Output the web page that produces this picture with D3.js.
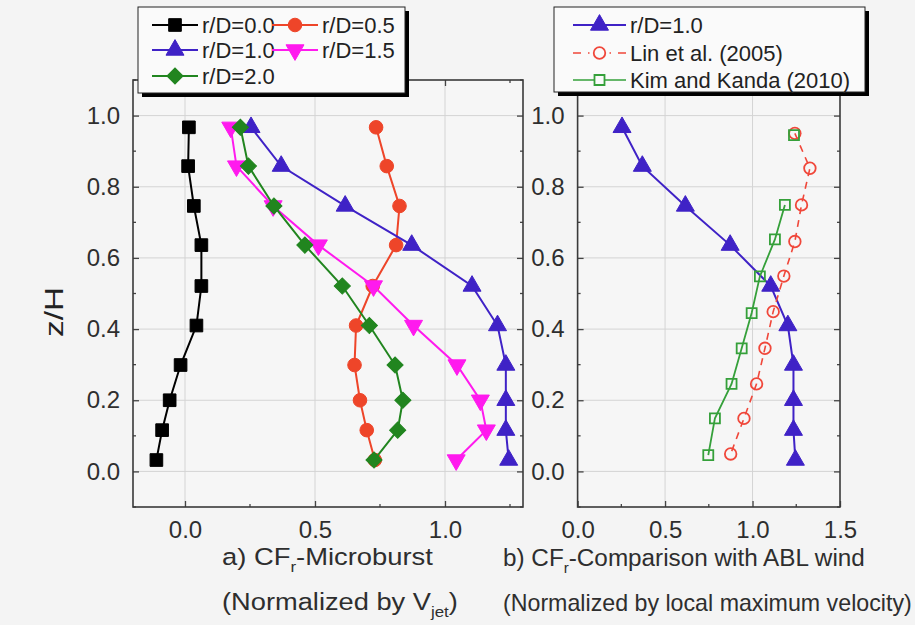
<!DOCTYPE html>
<html><head><meta charset="utf-8">
<script src="https://cdn.jsdelivr.net/npm/d3@7"></script>
<style>
html,body{margin:0;padding:0;background:#f4f4f4;}
svg{display:block;font-family:"Liberation Sans",Arial,sans-serif;}
</style></head>
<body>
<svg id="c" width="915" height="625"></svg>
<script>
// ---- data ----
const zLevels = [0.967, 0.858, 0.746, 0.636, 0.521, 0.41, 0.299, 0.2, 0.116, 0.032];
const rd00 = [0.015, 0.012, 0.034, 0.063, 0.063, 0.044, -0.017, -0.059, -0.088, -0.110];
const rd05 = [0.735, 0.776, 0.825, 0.812, 0.722, 0.658, 0.652, 0.673, 0.699, 0.73];
const rd10 = [0.254, 0.37, 0.616, 0.872, 1.104, 1.202, 1.234, 1.234, 1.234, 1.245];
const rd15 = [0.176, 0.198, 0.339, 0.513, 0.725, 0.879, 1.046, 1.136, 1.159, 1.043];
const rd20 = [0.213, 0.244, 0.342, 0.461, 0.605, 0.709, 0.808, 0.838, 0.818, 0.727];
const linZ = [0.95, 0.852, 0.749, 0.646, 0.549, 0.449, 0.346, 0.246, 0.149, 0.049];
const linX = [1.242, 1.328, 1.28, 1.242, 1.179, 1.118, 1.071, 1.023, 0.951, 0.875];
const kimZ = [0.945, 0.85, 0.749, 0.652, 0.548, 0.445, 0.346, 0.246, 0.149, 0.046];
const kimX = [1.237, null, 1.185, 1.128, 1.042, 0.995, 0.938, 0.88, 0.785, 0.747];
const leftXTicks = [0.0, 0.5, 1.0];
const rightXTicks = [0.0, 0.5, 1.0, 1.5];
const yTicks = [0.0, 0.2, 0.4, 0.6, 0.8, 1.0];
const leftNames = ["r/D=0.0", "r/D=0.5", "r/D=1.0", "r/D=1.5", "r/D=2.0"];
const rightNames = ["r/D=1.0", "Lin et al. (2005)", "Kim and Kanda (2010)"];

const C = {black:"#000000", red:"#ee4529", blue:"#3f22c6", magenta:"#ff1aee", green:"#21851f", lin:"#f0473a", kim:"#35a03a"};

const svg = d3.select("#c");
svg.append("rect").attr("width",915).attr("height",625).attr("fill","#f4f4f4");

const y = d3.scaleLinear().domain([-0.1, 1.1]).range([507, 80]);
const xL = d3.scaleLinear().domain([-0.2, 1.3]).range([133, 523]);
const xR = d3.scaleLinear().domain([0, 1.5]).range([577.6, 840]);

const markers = {
  square: {type:d3.symbolSquare, size:160, rot:0},
  circle: {type:d3.symbolCircle, size:145, rot:0},
  up: {type:d3.symbolTriangle, size:140, rot:0},
  down: {type:d3.symbolTriangle, size:140, rot:180},
  diamond: {type:d3.symbolSquare, size:130, rot:45},
  osquare: {type:d3.symbolSquare, size:100, rot:0},
  ocircle: {type:d3.symbolCircle, size:105, rot:0}
};
const TXT = "#2e2e2e";

function panel(x, ticksX, minorX, gridX){
  const g = svg.append("g");
  const [x0,x1] = x.range(), [y0,y1] = [y.range()[1], y.range()[0]];
  g.append("rect").attr("x",x0).attr("y",y0).attr("width",x1-x0).attr("height",y1-y0).attr("fill","#f6f6f6");
  g.selectAll(".gx").data(gridX).join("line").attr("x1",d=>x(d)).attr("x2",d=>x(d)).attr("y1",y0).attr("y2",y1)
    .attr("stroke","#d4d4d4").attr("stroke-width",1);
  g.selectAll(".gy").data(yTicks).join("line").attr("x1",x0).attr("x2",x1).attr("y1",d=>y(d)).attr("y2",d=>y(d))
    .attr("stroke","#d4d4d4").attr("stroke-width",1);
  const axB = d3.axisBottom(x).tickValues(ticksX).tickSize(-6).tickFormat(d3.format(".1f")).tickPadding(14);
  const gb = g.append("g").attr("transform",`translate(0,${y1})`).call(axB);
  gb.select(".domain").remove();
  gb.selectAll("text").attr("font-size",24).attr("fill",TXT).attr("font-family","Liberation Sans, Arial, sans-serif");
  gb.selectAll("line").attr("stroke","#444").attr("stroke-width",1.3);
  const axT = d3.axisTop(x).tickValues(ticksX).tickSize(-6).tickFormat("");
  const gt = g.append("g").attr("transform",`translate(0,${y0})`).call(axT);
  gt.select(".domain").remove(); gt.selectAll("line").attr("stroke","#444").attr("stroke-width",1.3);
  [[y1,-3],[y0,3]].forEach(([yy,dd])=>{
    g.selectAll(null).data(minorX).join("line").attr("x1",d=>x(d)).attr("x2",d=>x(d)).attr("y1",yy).attr("y2",yy+dd)
      .attr("stroke","#444").attr("stroke-width",1.3);
  });
  const axL = d3.axisLeft(y).tickValues(yTicks).tickSize(-6).tickFormat(d3.format(".1f")).tickPadding(13);
  const gl = g.append("g").attr("transform",`translate(${x0},0)`).call(axL);
  gl.select(".domain").remove();
  gl.selectAll("text").attr("font-size",24).attr("fill",TXT).attr("font-family","Liberation Sans, Arial, sans-serif");
  gl.selectAll("line").attr("stroke","#444").attr("stroke-width",1.3);
  const axRt = d3.axisRight(y).tickValues(yTicks).tickSize(-6).tickFormat("");
  const gr = g.append("g").attr("transform",`translate(${x1},0)`).call(axRt);
  gr.select(".domain").remove(); gr.selectAll("line").attr("stroke","#444").attr("stroke-width",1.3);
  const minorY = [-0.1,0.1,0.3,0.5,0.7,0.9,1.1];
  [[x0,3],[x1,-3]].forEach(([xx,dd])=>{
    g.selectAll(null).data(minorY).join("line").attr("x1",xx).attr("x2",xx+dd).attr("y1",d=>y(d)).attr("y2",d=>y(d))
      .attr("stroke","#444").attr("stroke-width",1.3);
  });
  g.append("rect").attr("x",x0).attr("y",y0).attr("width",x1-x0).attr("height",y1-y0)
    .attr("fill","none").attr("stroke","#3a3a3a").attr("stroke-width",1.6);
  return g;
}

function series(g, x, xs, zs, color, marker, opts={}){
  const pts = xs.map((v,i)=>({x:v, z:zs[i]}));
  const line = d3.line().defined(d=>d.x!==null).x(d=>x(d.x)).y(d=>y(d.z));
  g.append("path").attr("d",line(pts)).attr("fill","none").attr("stroke",color)
    .attr("stroke-width",opts.lw||2).attr("stroke-dasharray",opts.dash||null);
  const m = markers[marker];
  g.selectAll(null).data(pts.filter(d=>d.x!==null)).join("path")
    .attr("d", d3.symbol().type(m.type).size(m.size)())
    .attr("transform",d=>`translate(${x(d.x)},${y(d.z)}) rotate(${m.rot})`)
    .attr("fill", opts.open ? "none" : color)
    .attr("stroke", color).attr("stroke-width", opts.open?1.8:1);
}

const gL = panel(xL, leftXTicks, [0.25,0.75,1.25], [0,0.5,1.0]);
series(gL, xL, rd00, zLevels, C.black, "square");
series(gL, xL, rd05, zLevels, C.red, "circle");
series(gL, xL, rd10, zLevels, C.blue, "up");
series(gL, xL, rd15, zLevels, C.magenta, "down");
series(gL, xL, rd20, zLevels, C.green, "diamond");

const gR = panel(xR, rightXTicks, [0.25,0.75,1.25], [0.5,1.0]);
series(gR, xR, rd10, zLevels, C.blue, "up");
series(gR, xR, linX, linZ, C.lin, "ocircle", {open:true, dash:"7,6", lw:1.6});
series(gR, xR, kimX, kimZ, C.kim, "osquare", {open:true, lw:1.8});

// ---- legends ----
function legend(x0, y0, w, h, items){
  const g = svg.append("g");
  g.append("rect").attr("x",x0+4).attr("y",y0+4).attr("width",w).attr("height",h).attr("fill","#000");
  g.append("rect").attr("x",x0).attr("y",y0).attr("width",w).attr("height",h).attr("fill","#fafafa")
    .attr("stroke","#222").attr("stroke-width",1);
  items.forEach(it=>{
    const m = markers[it.marker];
    g.append("line").attr("x1",it.lx).attr("x2",it.lx+it.lw).attr("y1",it.y).attr("y2",it.y)
      .attr("stroke",it.color).attr("stroke-width",it.open?1.6:2).attr("stroke-dasharray",it.dash||null);
    if(it.dash){
      g.append("rect").attr("x",it.lx+it.lw/2-10).attr("y",it.y-3).attr("width",20).attr("height",6).attr("fill","#fafafa");
    }
    g.append("path").attr("d",d3.symbol().type(m.type).size(m.size)())
      .attr("transform",`translate(${it.lx+it.lw/2},${it.y}) rotate(${m.rot})`)
      .attr("fill",it.open?"#fafafa":it.color).attr("stroke",it.color).attr("stroke-width",it.open?1.8:1);
    g.append("text").attr("x",it.lx+it.lw+4).attr("y",it.y).attr("dy","0.36em")
      .attr("font-size",22).attr("fill","#222").text(it.name);
  });
}
legend(138, 7, 267, 86, [
  {name:leftNames[0], color:C.black, marker:"square", lx:152, lw:46, y:25},
  {name:leftNames[1], color:C.red, marker:"circle", lx:272, lw:46, y:25},
  {name:leftNames[2], color:C.blue, marker:"up", lx:152, lw:46, y:50},
  {name:leftNames[3], color:C.magenta, marker:"down", lx:272, lw:46, y:50},
  {name:leftNames[4], color:C.green, marker:"diamond", lx:152, lw:46, y:76}
]);
legend(554, 7, 311, 85, [
  {name:rightNames[0], color:C.blue, marker:"up", lx:573, lw:53, y:25},
  {name:rightNames[1], color:C.lin, marker:"ocircle", lx:573, lw:53, y:53, open:true, dash:"8,7"},
  {name:rightNames[2], color:C.kim, marker:"osquare", lx:573, lw:53, y:80, open:true}
]);

// ---- captions ----
function caption(x0, yb, width, parts, size){
  const t = svg.append("text").attr("x",0).attr("y",0).attr("font-size",size).attr("fill",TXT);
  parts.forEach(p=>{
    if(p.sub){
      t.append("tspan").attr("font-size",size*0.62).attr("dy",size*0.3).text(p.t);
    } else {
      t.append("tspan").attr("dy", p.back? -size*0.3 : 0).text(p.t);
    }
  });
  const w = t.node().getComputedTextLength();
  t.attr("transform",`translate(${x0},${yb}) scale(${width/w},1)`);
  return t;
}
caption(222, 565, 211, [{t:"a) CF"},{t:"r",sub:true},{t:"-Microburst",back:true}], 23.5);
caption(222, 610, 236, [{t:"(Normalized by V"},{t:"jet",sub:true},{t:")",back:true}], 24.5);
caption(503, 566, 362, [{t:"b) CF"},{t:"r",sub:true},{t:"-Comparison with ABL wind",back:true}], 23.5);
caption(503, 611, 409, [{t:"(Normalized by local maximum velocity)"}], 23);

// y axis title
const yt = svg.append("text").attr("font-size",26).attr("fill","#222").attr("text-anchor","middle").text("z/H");
const yw = yt.node().getComputedTextLength();
yt.attr("transform",`translate(63,312) rotate(-90) scale(${50/yw},1)`);
</script>
</body></html>
